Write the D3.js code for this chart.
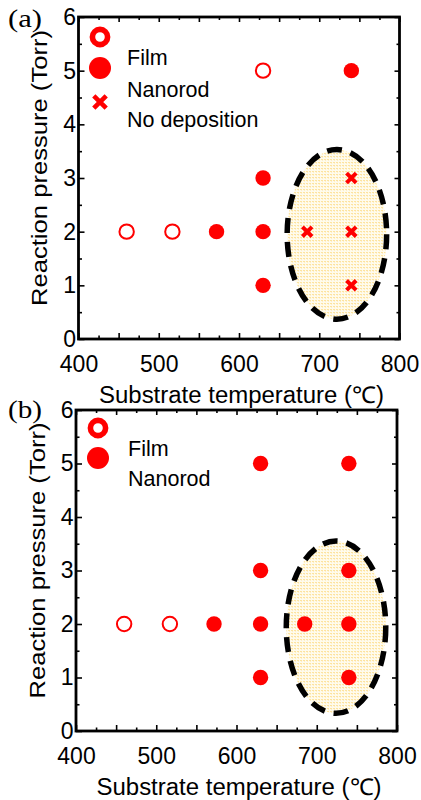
<!DOCTYPE html>
<html>
<head>
<meta charset="utf-8">
<script src="https://cdn.jsdelivr.net/npm/d3@7"></script>
<style>
  body { margin: 0; background: #fff; }
  svg { display: block; }
</style>
</head>
<body>
<div id="chart"></div>
<script>
// ---- data ----
const tempTicks = [400, 500, 600, 700, 800];
const pressTicks = [0, 1, 2, 3, 4, 5, 6];

// [temperature (°C), pressure (Torr)]
const filmA = [[460, 2], [517, 2], [630, 5]];
const nanorodA = [[572, 2], [630, 1], [630, 2], [630, 3], [740, 5]];
const noDepA = [[685, 2], [740, 1], [740, 2], [740, 3]];

const filmB = [[460, 2], [517, 2]];
const nanorodB = [[572, 2], [630, 1], [630, 2], [630, 3], [630, 5],
                  [685, 2], [740, 1], [740, 2], [740, 3], [740, 5]];

// shaded region: [centre temp, centre pressure, half-width temp, half-height pressure]
const regionA = [722, 1.95, 62, 1.58];
const regionB = [724, 1.94, 62, 1.61];

const legendA = ['Film', 'Nanorod', 'No deposition'];
const legendB = ['Film', 'Nanorod'];

const xLabel = 'Substrate temperature (\u2103)';
const yLabel = 'Reaction pressure (Torr)';

// ---- layout ----
const W = 421, H = 800;
const RED = '#ff0000';
const SANS = '"Liberation Sans", Arial, Helvetica, sans-serif';
const SERIF = '"Liberation Serif", "Times New Roman", serif';

const panels = [
  { tag: '(a)', tagY: 27, x0: 78.5, x1: 399.5, y0: 17, y1: 339,
    film: filmA, nano: nanorodA, nodep: noDepA, region: regionA, legend: legendA,
    leg: { mx: 21.5, my: [20, 51, 85], tx: 48.5, ty: [48, 80, 110] } },
  { tag: '(b)', tagY: 418, x0: 76, x1: 397, y0: 410, y1: 731,
    film: filmB, nano: nanorodB, nodep: [], region: regionB, legend: legendB,
    leg: { mx: 22, my: [18, 48], tx: 52, ty: [46, 76] } }
];

const svg = d3.select('#chart').append('svg').attr('width', W).attr('height', H);

// pale dotted fill for the shaded region
const defs = svg.append('defs');
const pat = defs.append('pattern').attr('id', 'dots')
  .attr('width', 3).attr('height', 3).attr('patternUnits', 'userSpaceOnUse');
pat.append('rect').attr('width', 3).attr('height', 3).attr('fill', '#fffbec');
pat.append('rect').attr('width', 2).attr('height', 1).attr('fill', '#fde3a0');
pat.append('rect').attr('x', 1).attr('y', 1).attr('width', 1).attr('height', 1).attr('fill', '#feefc8');

const xPath = s => `M${-s},${-s}L${s},${s}M${-s},${s}L${s},${-s}`;

panels.forEach(p => {
  const x = d3.scaleLinear().domain([400, 800]).range([p.x0, p.x1]);
  const y = d3.scaleLinear().domain([0, 6]).range([p.y1, p.y0]);
  const g = svg.append('g');

  const [cx, cy, rx, ry] = p.region;
  g.append('ellipse')
    .attr('cx', x(cx)).attr('cy', y(cy))
    .attr('rx', x(cx + rx) - x(cx)).attr('ry', y(cy) - y(cy + ry))
    .attr('fill', 'url(#dots)')
    .attr('stroke', '#000').attr('stroke-width', 5.5)
    .attr('stroke-dasharray', '15 9');

  // axes: ticks point inward, labels only on bottom/left
  const axisStyle = (sel) => {
    sel.select('.domain').remove();
    sel.selectAll('line').attr('stroke', '#000').attr('stroke-width', 1.6);
    sel.attr('font-family', SANS).attr('font-size', 23);
    sel.selectAll('text').attr('fill', '#000');
  };

  const xMajor = d3.range(400, 801, 50);
  const xMinor = d3.range(425, 800, 50);
  const yMajor = d3.range(0, 6.01, 1);
  const yMinor = d3.range(0.5, 6, 1);

  g.append('g').attr('transform', `translate(0,${p.y1})`)
    .call(d3.axisBottom(x).tickValues(xMajor).tickSizeInner(-6).tickSizeOuter(0)
      .tickPadding(16.5).tickFormat(d => tempTicks.includes(d) ? d : ''))
    .call(axisStyle);
  g.append('g').attr('transform', `translate(0,${p.y1})`)
    .call(d3.axisBottom(x).tickValues(xMinor).tickSizeInner(-3.5).tickSizeOuter(0).tickFormat(''))
    .call(axisStyle);
  g.append('g').attr('transform', `translate(0,${p.y0})`)
    .call(d3.axisTop(x).tickValues(xMajor).tickSizeInner(-5).tickSizeOuter(0).tickFormat(''))
    .call(axisStyle);
  g.append('g').attr('transform', `translate(0,${p.y0})`)
    .call(d3.axisTop(x).tickValues(xMinor).tickSizeInner(-3).tickSizeOuter(0).tickFormat(''))
    .call(axisStyle);

  g.append('g').attr('transform', `translate(${p.x0},0)`)
    .call(d3.axisLeft(y).tickValues(yMajor).tickSizeInner(-6).tickSizeOuter(0)
      .tickPadding(2.5).tickFormat(d => pressTicks.includes(d) ? d : ''))
    .call(axisStyle);
  g.append('g').attr('transform', `translate(${p.x0},0)`)
    .call(d3.axisLeft(y).tickValues(yMinor).tickSizeInner(-3.5).tickSizeOuter(0).tickFormat(''))
    .call(axisStyle);
  g.append('g').attr('transform', `translate(${p.x1},0)`)
    .call(d3.axisRight(y).tickValues(yMajor).tickSizeInner(-5).tickSizeOuter(0).tickFormat(''))
    .call(axisStyle);
  g.append('g').attr('transform', `translate(${p.x1},0)`)
    .call(d3.axisRight(y).tickValues(yMinor).tickSizeInner(-3).tickSizeOuter(0).tickFormat(''))
    .call(axisStyle);

  // frame
  g.append('rect')
    .attr('x', p.x0).attr('y', p.y0)
    .attr('width', p.x1 - p.x0).attr('height', p.y1 - p.y0)
    .attr('fill', 'none').attr('stroke', '#000').attr('stroke-width', 2.8);

  // data markers
  g.selectAll('.film').data(p.film).join('circle')
    .attr('cx', d => x(d[0])).attr('cy', d => y(d[1])).attr('r', 7.2)
    .attr('fill', '#fff').attr('stroke', RED).attr('stroke-width', 2);
  g.selectAll('.nano').data(p.nano).join('circle')
    .attr('cx', d => x(d[0])).attr('cy', d => y(d[1])).attr('r', 7.7)
    .attr('fill', RED);
  g.selectAll('.nodep').data(p.nodep).join('path')
    .attr('transform', d => `translate(${x(d[0])},${y(d[1])})`)
    .attr('d', xPath(4.8))
    .attr('fill', 'none').attr('stroke', RED).attr('stroke-width', 4);

  // legend
  const L = p.leg;
  const lx = p.x0 + L.mx;
  g.append('circle').attr('cx', lx).attr('cy', p.y0 + L.my[0]).attr('r', 7.6)
    .attr('fill', '#fff').attr('stroke', RED).attr('stroke-width', 5.6);
  g.append('circle').attr('cx', lx).attr('cy', p.y0 + L.my[1]).attr('r', 11)
    .attr('fill', RED);
  if (L.my.length > 2) {
    g.append('path').attr('transform', `translate(${lx},${p.y0 + L.my[2]})`)
      .attr('d', xPath(6.2)).attr('fill', 'none').attr('stroke', RED).attr('stroke-width', 4.6);
  }
  g.selectAll('.legtext').data(p.legend).join('text')
    .attr('x', p.x0 + L.tx).attr('y', (d, i) => p.y0 + L.ty[i])
    .attr('font-family', SANS).attr('font-size', 21.5).attr('fill', '#000')
    .text(d => d);

  // axis titles
  g.append('text')
    .attr('x', (p.x0 + p.x1) / 2 + 2.5).attr('y', p.y1 + 63.5)
    .attr('text-anchor', 'middle').attr('font-family', SANS).attr('font-size', 23)
    .attr('textLength', 285).attr('lengthAdjust', 'spacingAndGlyphs')
    .text(xLabel);
  g.append('text')
    .attr('transform', `translate(${p.x0 - 31.5},${(p.y0 + p.y1) / 2 - 10}) rotate(-90)`)
    .attr('text-anchor', 'middle').attr('font-family', SANS).attr('font-size', 21.5)
    .attr('textLength', 276).attr('lengthAdjust', 'spacingAndGlyphs')
    .text(yLabel);

  // panel tag
  svg.append('text')
    .attr('x', 8).attr('y', p.tagY)
    .attr('font-family', SERIF).attr('font-size', 25)
    .attr('textLength', 34).attr('lengthAdjust', 'spacingAndGlyphs')
    .text(p.tag);
});
</script>
</body>
</html>
